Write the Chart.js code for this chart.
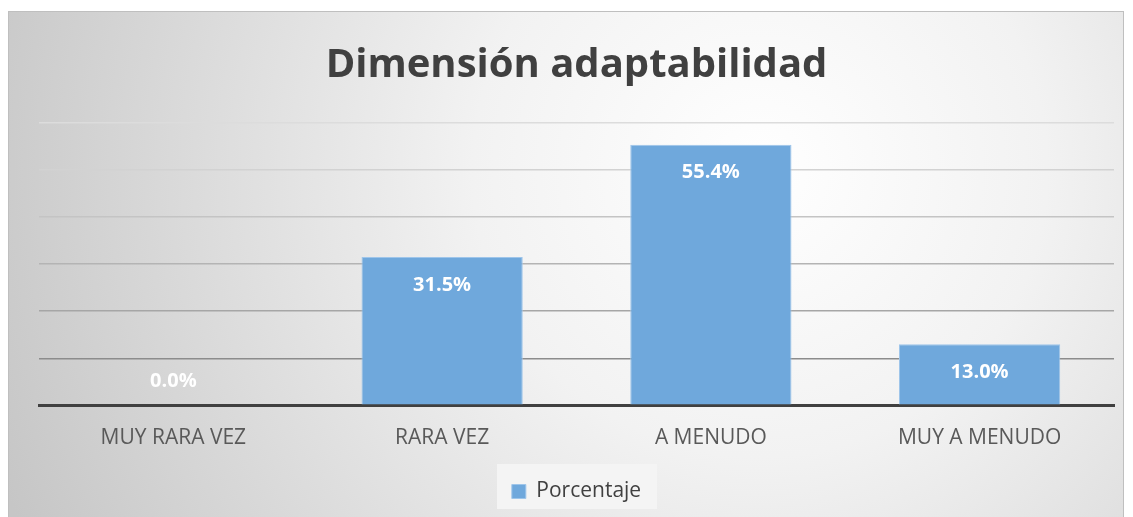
<!DOCTYPE html>
<html>
<head>
<meta charset="utf-8">
<script src="https://cdn.jsdelivr.net/npm/chart.js@4.4.1/dist/chart.umd.min.js"></script>
<style>
  body { margin: 0; background: #ffffff; }
  #wrap { position: absolute; left: 0; top: 0; width: 1133px; height: 517px; }
</style>
</head>
<body>
<div id="wrap"><canvas id="myChart" width="1133" height="517"></canvas></div>
<script>
  var categories = ['MUY RARA VEZ', 'RARA VEZ', 'A MENUDO', 'MUY A MENUDO'];
  var porcentaje = [0.0, 31.5, 55.4, 13.0];
  var seriesName = 'Porcentaje';
  var chartTitle = 'Dimensión adaptabilidad';

  // fondo con degradado radial y borde, como en Excel
  var fondoPlugin = {
    id: 'fondo',
    beforeDraw: function(chart) {
      var ctx = chart.ctx;
      ctx.save();
      ctx.fillStyle = '#ffffff';
      ctx.fillRect(0, 0, chart.width, chart.height);
      var g = ctx.createRadialGradient(760, 170, 0, 760, 170, 820);
      g.addColorStop(0, '#ffffff');
      g.addColorStop(0.35, '#f2f2f2');
      g.addColorStop(1, '#c6c6c6');
      ctx.fillStyle = g;
      ctx.fillRect(8, 11, 1116, 510);
      ctx.strokeStyle = '#bfbfbf';
      ctx.lineWidth = 1;
      ctx.strokeRect(8.5, 11.5, 1115, 510);
      // caja de la leyenda
      ctx.fillStyle = '#f4f4f4';
      ctx.fillRect(497, 464, 160, 45);
      ctx.restore();
    }
  };

  // etiquetas de datos dentro del extremo de la barra
  var etiquetasPlugin = {
    id: 'etiquetas',
    afterDatasetsDraw: function(chart) {
      var ctx = chart.ctx;
      var meta = chart.getDatasetMeta(0);
      ctx.save();
      ctx.font = 'bold 20px "Open Sans"';
      ctx.fillStyle = '#ffffff';
      ctx.textAlign = 'center';
      ctx.textBaseline = 'middle';
      meta.data.forEach(function(bar, i) {
        var v = porcentaje[i];
        var y = v === 0 ? bar.y - 24 : bar.y + 28;
        ctx.fillText(v.toFixed(1) + '%', bar.x, y);
      });
      ctx.restore();
    }
  };

  function gridColor(ctx) {
    var v = ctx.tick ? ctx.tick.value : 0;
    if (v === 0) return 'rgba(0,0,0,0)';
    var cols = { 10: '#8c8c8c', 20: '#a6a6a6', 30: '#b4b4b4', 40: '#c4c4c4', 50: '#d2d2d2', 60: '#dcdcdc' };
    return cols[v] || '#cccccc';
  }

  var ctx = document.getElementById('myChart').getContext('2d');
  var myChart = new Chart(ctx, {
    type: 'bar',
    data: {
      labels: categories,
      datasets: [{
        label: seriesName,
        data: porcentaje,
        backgroundColor: '#6fa8dc',
        borderColor: '#9ec5ea',
        borderWidth: 1,
        barPercentage: 0.6,
        categoryPercentage: 1.0
      }]
    },
    plugins: [fondoPlugin, etiquetasPlugin],
    options: {
      responsive: false,
      animation: false,
      layout: { padding: { left: 39, right: 19, top: 20, bottom: 5 } },
      plugins: {
        title: {
          display: true,
          text: chartTitle,
          color: '#404040',
          font: { family: '"Open Sans"', size: 40, weight: 'bold' },
          padding: { top: 22, bottom: 33 }
        },
        legend: {
          display: true,
          position: 'bottom',
          labels: {
            color: '#404040',
            font: { family: '"Open Sans"', size: 21 },
            boxWidth: 14,
            boxHeight: 14,
            padding: 18.5
          }
        },
        tooltip: { enabled: false }
      },
      scales: {
        x: {
          grid: { display: false },
          border: { display: true, color: '#404040', width: 3 },
          ticks: {
            color: '#595959',
            font: { family: '"Open Sans"', size: 21 },
            padding: 12
          }
        },
        y: {
          min: 0,
          max: 60,
          ticks: { display: false, stepSize: 10 },
          border: { display: false },
          grid: { color: gridColor, lineWidth: 1.5, drawTicks: false }
        }
      }
    }
  });
</script>
</body>
</html>
